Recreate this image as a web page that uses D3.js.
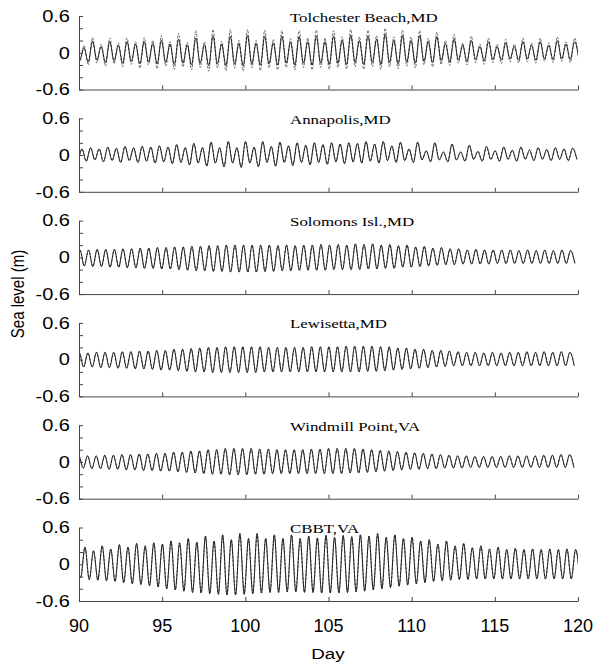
<!DOCTYPE html>
<html>
<head>
<meta charset="utf-8">
<script src="https://cdn.jsdelivr.net/npm/d3@7"></script>
<style>
  body { margin: 0; background: #fff; }
</style>
</head>
<body>
<script>
let width = 595,
    height = 663

// ---- data ----
const stations = ['Tolchester Beach,MD', 'Annapolis,MD', 'Solomons Isl.,MD', 'Lewisetta,MD', 'Windmill Point,VA', 'CBBT,VA']
const firstHigh = [89.78, 89.66, 89.54, 89.50, 89.48, 89.84]   // day of first high water per panel
const tidePeriod = 0.5175                                       // semidiurnal period, days
const dayTicks = [90, 95, 100, 105, 110, 115, 120]
const levelTicks = [-0.6, -0.4, -0.2, 0, 0.2, 0.4, 0.6]
const levelLabels = [-0.6, 0, 0.6]

// high / low water per tidal cycle, model (solid) and observed (dashed)
const tolModelHigh = [0.10, 0.08, 0.19, 0.10, 0.18, 0.12, 0.18, 0.14, 0.18, 0.15,
  0.20, 0.14, 0.22, 0.13, 0.24, 0.13, 0.27, 0.14, 0.27, 0.15,
  0.28, 0.15, 0.27, 0.16, 0.27, 0.17, 0.26, 0.18, 0.27, 0.18,
  0.27, 0.20, 0.28, 0.20, 0.27, 0.22, 0.30, 0.20, 0.28, 0.20,
  0.28, 0.18, 0.26, 0.15, 0.22, 0.12, 0.20, 0.10, 0.18, 0.10,
  0.16, 0.10, 0.18, 0.12, 0.18, 0.12, 0.20, 0.14, 0.18]
const tolModelLow = [-0.12, -0.15, -0.12, -0.16, -0.13, -0.17, -0.14, -0.18, -0.15, -0.18,
  -0.16, -0.19, -0.17, -0.20, -0.17, -0.21, -0.18, -0.21, -0.18, -0.21,
  -0.18, -0.20, -0.18, -0.20, -0.17, -0.20, -0.17, -0.20, -0.17, -0.19,
  -0.17, -0.19, -0.16, -0.19, -0.16, -0.19, -0.16, -0.18, -0.15, -0.17,
  -0.14, -0.16, -0.13, -0.15, -0.12, -0.14, -0.11, -0.13, -0.11, -0.12,
  -0.10, -0.12, -0.10, -0.12, -0.10, -0.11, -0.10, -0.11, -0.10]
const tolObsHigh = [0.12, 0.12, 0.25, 0.14, 0.24, 0.16, 0.24, 0.18, 0.25, 0.20,
  0.28, 0.18, 0.32, 0.17, 0.36, 0.18, 0.38, 0.19, 0.38, 0.20,
  0.38, 0.20, 0.37, 0.22, 0.36, 0.23, 0.36, 0.24, 0.37, 0.24,
  0.36, 0.26, 0.38, 0.26, 0.37, 0.28, 0.40, 0.26, 0.37, 0.26,
  0.36, 0.24, 0.34, 0.20, 0.30, 0.16, 0.27, 0.14, 0.24, 0.14,
  0.22, 0.14, 0.24, 0.16, 0.24, 0.16, 0.26, 0.18, 0.24]
const tolObsLow = [-0.16, -0.20, -0.17, -0.22, -0.18, -0.23, -0.19, -0.25, -0.20, -0.26,
  -0.22, -0.27, -0.23, -0.28, -0.24, -0.30, -0.25, -0.30, -0.25, -0.30,
  -0.25, -0.29, -0.25, -0.28, -0.24, -0.28, -0.24, -0.28, -0.24, -0.27,
  -0.24, -0.27, -0.23, -0.27, -0.23, -0.27, -0.23, -0.26, -0.22, -0.25,
  -0.20, -0.23, -0.19, -0.21, -0.17, -0.20, -0.16, -0.19, -0.16, -0.18,
  -0.15, -0.17, -0.15, -0.17, -0.14, -0.16, -0.14, -0.16, -0.14]

const annModelHigh = [0.08, 0.10, 0.12, 0.10, 0.13, 0.11, 0.14, 0.12, 0.14, 0.13,
  0.15, 0.13, 0.17, 0.12, 0.19, 0.12, 0.21, 0.12, 0.22, 0.12,
  0.22, 0.13, 0.22, 0.14, 0.21, 0.15, 0.20, 0.16, 0.20, 0.17,
  0.20, 0.18, 0.20, 0.19, 0.22, 0.18, 0.22, 0.15, 0.21, 0.10,
  0.21, 0.07, 0.20, 0.05, 0.18, 0.05, 0.16, 0.06, 0.14, 0.07,
  0.13, 0.08, 0.13, 0.08, 0.12, 0.09, 0.12, 0.10, 0.11]
const annModelLow = [-0.08, -0.10, -0.08, -0.11, -0.09, -0.12, -0.09, -0.12, -0.10, -0.13,
  -0.11, -0.14, -0.12, -0.16, -0.13, -0.18, -0.13, -0.19, -0.13, -0.20,
  -0.13, -0.19, -0.12, -0.18, -0.12, -0.17, -0.12, -0.16, -0.12, -0.15,
  -0.11, -0.14, -0.11, -0.13, -0.10, -0.13, -0.09, -0.12, -0.09, -0.12,
  -0.08, -0.11, -0.08, -0.11, -0.08, -0.10, -0.07, -0.10, -0.07, -0.10,
  -0.07, -0.10, -0.07, -0.09, -0.07, -0.09, -0.07, -0.09, -0.07]

const solModelHigh = [0.10, 0.12, 0.12, 0.13, 0.13, 0.13, 0.14, 0.14, 0.15, 0.15,
  0.16, 0.16, 0.17, 0.17, 0.18, 0.18, 0.19, 0.19, 0.20, 0.20,
  0.20, 0.20, 0.20, 0.20, 0.19, 0.20, 0.19, 0.20, 0.20, 0.21,
  0.20, 0.21, 0.20, 0.22, 0.21, 0.22, 0.20, 0.21, 0.19, 0.20,
  0.17, 0.18, 0.15, 0.16, 0.14, 0.14, 0.12, 0.13, 0.12, 0.12,
  0.12, 0.12, 0.11, 0.12, 0.11, 0.12, 0.11, 0.12, 0.11]
const solModelLow = [-0.14, -0.14, -0.15, -0.15, -0.16, -0.16, -0.17, -0.17, -0.18, -0.18,
  -0.19, -0.19, -0.20, -0.21, -0.22, -0.22, -0.23, -0.23, -0.24, -0.24,
  -0.24, -0.24, -0.23, -0.23, -0.22, -0.22, -0.21, -0.21, -0.21, -0.21,
  -0.20, -0.20, -0.20, -0.20, -0.19, -0.19, -0.18, -0.18, -0.16, -0.16,
  -0.15, -0.14, -0.13, -0.12, -0.12, -0.11, -0.11, -0.11, -0.11, -0.10,
  -0.10, -0.10, -0.10, -0.10, -0.10, -0.10, -0.10, -0.10, -0.10]

const lewModelHigh = [0.10, 0.11, 0.11, 0.12, 0.12, 0.12, 0.13, 0.13, 0.14, 0.14,
  0.15, 0.15, 0.17, 0.17, 0.18, 0.19, 0.20, 0.20, 0.21, 0.21,
  0.21, 0.21, 0.21, 0.20, 0.20, 0.20, 0.20, 0.20, 0.21, 0.21,
  0.21, 0.21, 0.22, 0.22, 0.22, 0.22, 0.21, 0.21, 0.19, 0.19,
  0.17, 0.17, 0.15, 0.15, 0.14, 0.13, 0.12, 0.12, 0.11, 0.12,
  0.11, 0.12, 0.12, 0.13, 0.12, 0.13, 0.12, 0.13, 0.12]
const lewModelLow = [-0.12, -0.12, -0.12, -0.13, -0.13, -0.14, -0.14, -0.15, -0.15, -0.16,
  -0.17, -0.17, -0.18, -0.19, -0.20, -0.20, -0.21, -0.21, -0.21, -0.21,
  -0.21, -0.21, -0.20, -0.20, -0.20, -0.20, -0.20, -0.20, -0.20, -0.20,
  -0.20, -0.20, -0.20, -0.20, -0.19, -0.19, -0.18, -0.17, -0.16, -0.15,
  -0.14, -0.13, -0.12, -0.11, -0.10, -0.10, -0.10, -0.10, -0.10, -0.10,
  -0.10, -0.10, -0.10, -0.10, -0.10, -0.10, -0.10, -0.10, -0.10]

const winModelHigh = [0.08, 0.09, 0.10, 0.10, 0.11, 0.11, 0.12, 0.12, 0.13, 0.13,
  0.14, 0.14, 0.16, 0.16, 0.18, 0.18, 0.20, 0.20, 0.22, 0.22,
  0.22, 0.22, 0.21, 0.21, 0.20, 0.20, 0.20, 0.20, 0.21, 0.21,
  0.22, 0.22, 0.22, 0.22, 0.21, 0.20, 0.19, 0.18, 0.17, 0.16,
  0.15, 0.14, 0.13, 0.12, 0.11, 0.10, 0.10, 0.09, 0.09, 0.09,
  0.09, 0.10, 0.10, 0.10, 0.10, 0.11, 0.11, 0.12, 0.12]
const winModelLow = [-0.10, -0.10, -0.11, -0.11, -0.12, -0.12, -0.13, -0.13, -0.14, -0.14,
  -0.15, -0.15, -0.16, -0.17, -0.18, -0.19, -0.20, -0.20, -0.21, -0.21,
  -0.21, -0.20, -0.20, -0.19, -0.19, -0.19, -0.19, -0.19, -0.19, -0.19,
  -0.19, -0.19, -0.18, -0.18, -0.17, -0.16, -0.15, -0.14, -0.13, -0.12,
  -0.12, -0.11, -0.11, -0.10, -0.10, -0.10, -0.09, -0.09, -0.09, -0.09,
  -0.09, -0.09, -0.09, -0.09, -0.09, -0.09, -0.09, -0.09, -0.09]

const cbbModelHigh = [0.25, 0.28, 0.22, 0.30, 0.25, 0.32, 0.28, 0.34, 0.30, 0.35,
  0.33, 0.38, 0.35, 0.42, 0.36, 0.46, 0.38, 0.48, 0.40, 0.50,
  0.42, 0.50, 0.42, 0.48, 0.42, 0.48, 0.42, 0.46, 0.43, 0.47,
  0.44, 0.47, 0.45, 0.48, 0.46, 0.50, 0.44, 0.48, 0.42, 0.44,
  0.38, 0.40, 0.33, 0.38, 0.30, 0.34, 0.27, 0.30, 0.25, 0.28,
  0.24, 0.26, 0.24, 0.25, 0.24, 0.25, 0.24, 0.25, 0.24]
const cbbModelLow = [-0.22, -0.25, -0.26, -0.27, -0.28, -0.30, -0.32, -0.33, -0.35, -0.37,
  -0.40, -0.42, -0.44, -0.46, -0.47, -0.48, -0.49, -0.50, -0.50, -0.49,
  -0.48, -0.47, -0.46, -0.46, -0.45, -0.45, -0.46, -0.46, -0.47, -0.47,
  -0.47, -0.46, -0.45, -0.44, -0.42, -0.40, -0.38, -0.36, -0.34, -0.32,
  -0.30, -0.28, -0.27, -0.26, -0.25, -0.25, -0.24, -0.24, -0.24, -0.24,
  -0.24, -0.24, -0.24, -0.24, -0.24, -0.24, -0.24, -0.24, -0.24]

const modelHigh = [tolModelHigh, annModelHigh, solModelHigh, lewModelHigh, winModelHigh, cbbModelHigh]
const modelLow = [tolModelLow, annModelLow, solModelLow, lewModelLow, winModelLow, cbbModelLow]
const obsHigh = [tolObsHigh, annModelHigh, solModelHigh, lewModelHigh, winModelHigh, cbbModelHigh]
const obsLow = [tolObsLow, annModelLow, solModelLow, lewModelLow, winModelLow, cbbModelLow]

// ---- layout ----
const plotLeft = 79, plotRight = 578
const firstTop = 16, panelStep = 102.3, panelHeight = 73.5
const stretch = 1.25   // the figure's lettering is set wider than tall

let svg = d3.select('body').append('svg')
    .attr('width', width)
    .attr('height', height)
    .style('font-family', 'Arial, "Liberation Sans", Helvetica, sans-serif')

let x = d3.scaleLinear().domain([90, 120]).range([plotLeft, plotRight])

svg.append('defs').append('clipPath')
    .attr('id', 'plotClip')
    .append('rect')
    .attr('x', plotLeft).attr('y', -10)
    .attr('width', plotRight - plotLeft).attr('height', 120)

function tideSeries(t0, highs, lows) {
  let pts = []
  highs.forEach((h, k) => {
    pts.push({day: t0 + k * tidePeriod, level: h})
    pts.push({day: t0 + (k + 0.5) * tidePeriod, level: lows[k]})
  })
  return pts
}

stations.forEach((name, i) => {
  let top = firstTop + i * panelStep
  let y = d3.scaleLinear().domain([-0.6, 0.6]).range([panelHeight, 0])
  let panel = svg.append('g').attr('transform', `translate(0,${top})`)

  let line = d3.line()
      .x(d => x(d.day))
      .y(d => y(d.level))
      .curve(d3.curveMonotoneX)

  let lines = panel.append('g').attr('clip-path', 'url(#plotClip)')
  lines.append('path')
      .datum(tideSeries(firstHigh[i], obsHigh[i], obsLow[i]))
      .attr('d', line)
      .attr('fill', 'none')
      .attr('stroke', '#555')
      .attr('stroke-width', 0.9)
      .attr('stroke-dasharray', '2.5,1.5')
  lines.append('path')
      .datum(tideSeries(firstHigh[i], modelHigh[i], modelLow[i]))
      .attr('d', line)
      .attr('fill', 'none')
      .attr('stroke', '#111')
      .attr('stroke-width', 0.9)

  // left axis, ticks pointing inward
  let yAxis = panel.append('g')
      .attr('transform', `translate(${plotLeft},0)`)
      .call(d3.axisLeft(y).tickValues(levelTicks).tickSize(-4).tickSizeOuter(0).tickFormat(''))
  yAxis.selectAll('path, line').attr('stroke', '#444')

  panel.selectAll('.ylab')
    .data(levelLabels)
    .join('text')
      .attr('class', 'ylab')
      .attr('transform', d => `translate(${plotLeft - 9},${y(d)}) scale(${stretch},1)`)
      .attr('text-anchor', 'end')
      .attr('dy', '0.36em')
      .style('font-size', '16px')
      .text(d => d === 0 ? '0' : d.toFixed(1))

  // bottom axis, ticks pointing up
  let xAxis = panel.append('g')
      .attr('transform', `translate(0,${panelHeight})`)
      .call(d3.axisBottom(x).tickValues(dayTicks).tickSize(-4).tickSizeOuter(0).tickFormat(''))
  xAxis.selectAll('path, line').attr('stroke', '#444')

  panel.append('text')
      .attr('transform', `translate(290,5.5) scale(${stretch},1)`)
      .style('font-family', '"Liberation Serif", "Times New Roman", serif')
      .style('font-size', '13.5px')
      .text(name)

  if (i === stations.length - 1) {
    panel.selectAll('.xlab')
      .data(dayTicks)
      .join('text')
        .attr('class', 'xlab')
        .attr('x', d => x(d))
        .attr('y', panelHeight + 31)
        .attr('text-anchor', 'middle')
        .style('font-size', '18px')
        .text(d => d)
  }
})

svg.append('text')
    .attr('transform', `translate(328,659) scale(${stretch},1)`)
    .attr('text-anchor', 'middle')
    .style('font-size', '15px')
    .text('Day')

svg.append('text')
    .attr('transform', `translate(24,294) scale(${stretch},1) rotate(-90)`)
    .attr('text-anchor', 'middle')
    .style('font-size', '15px')
    .text('Sea level (m)')
</script>
</body>
</html>
